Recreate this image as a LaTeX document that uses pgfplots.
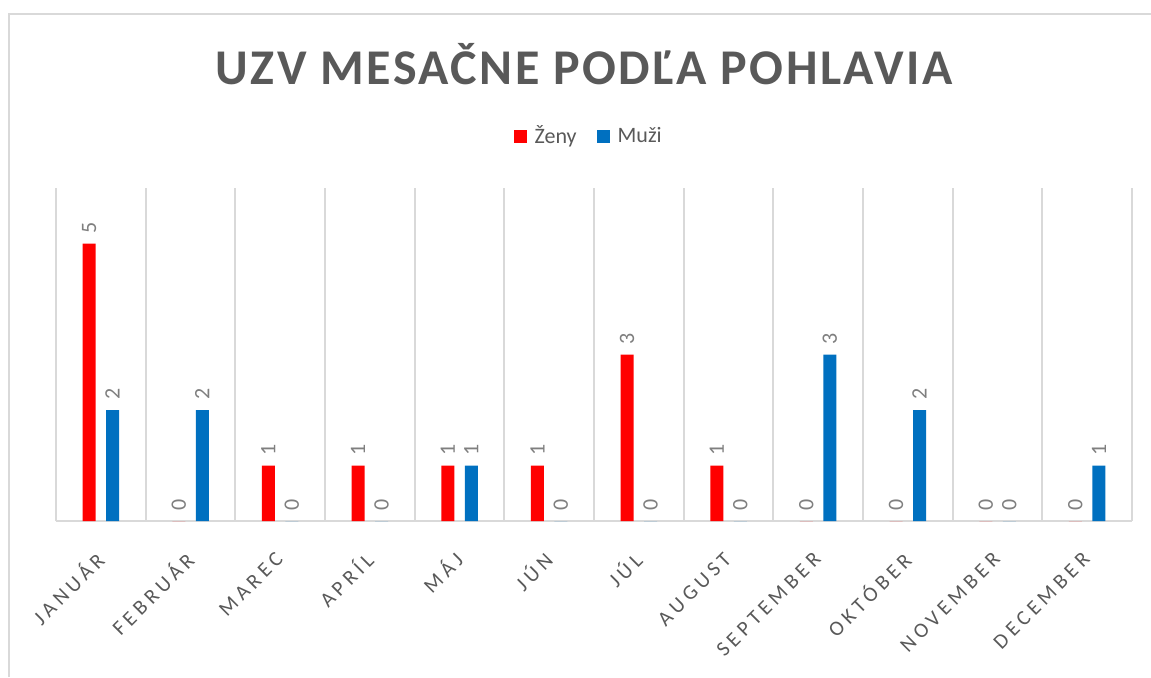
\documentclass[border=0pt]{standalone}
\usepackage{fontspec}
\setmainfont{Carlito}
\newfontfamily\titlefont[LetterSpace=5]{Carlito}
\newfontfamily\tickfont[LetterSpace=21]{Carlito}
\usepackage{pgfplots}
\pgfplotsset{compat=1.18}
\definecolor{zeny}{HTML}{FF0000}
\definecolor{muzi}{HTML}{0070C0}
\definecolor{gridc}{HTML}{D9D9D9}
\definecolor{txt}{HTML}{595959}
\definecolor{lbl}{HTML}{7F7F7F}
\begin{document}
\begin{tikzpicture}
\path[use as bounding box] (0,0) rectangle (575.5pt,338.5pt);
\draw[gridc, line width=1pt] (4.5pt,0) -- (4.5pt,331.5pt) -- (575.5pt,331.5pt);
\node[font=\titlefont\bfseries\fontsize{25}{30}\selectfont, text=txt] at (292pt,306.5pt) {UZV MESAČNE PODĽA POHLAVIA};
\begin{axis}[
  at={(28pt,78pt)}, anchor=south west,
  scale only axis, width=538pt, height=166.5pt,
  ymin=0, ymax=6, xmin=-0.5, xmax=11.5,
  ybar=5.25pt, bar width=6.5pt,
  axis x line*=bottom, axis y line=none,
  x axis line style={gridc, line width=1pt, -},
  xtick={0,...,11},
  xticklabels={JANUÁR,FEBRUÁR,MAREC,APRÍL,MÁJ,JÚN,JÚL,AUGUST,SEPTEMBER,OKTÓBER,NOVEMBER,DECEMBER},
  minor xtick={-0.5,0.5,...,11.5},
  xminorgrids, minor grid style={gridc, line width=1pt},
  major tick length=0pt, minor tick length=0pt,
  xticklabel style={xshift=2pt, yshift=-15pt, rotate=45, anchor=east, font=\tickfont\fontsize{10.5}{12}\selectfont, text=txt},
  /pgf/number format/assume math mode=true,
  nodes near coords,
  every node near coord/.append style={rotate=90, anchor=west, font=\fontsize{11}{13}\selectfont, text=lbl, inner xsep=5pt},
  legend columns=2,
  legend style={at={(0.496,1.156)}, anchor=center, draw=none, font=\fontsize{11}{13}\selectfont, text=txt,
    /tikz/every even column/.append style={column sep=8pt},
    /tikz/every odd column/.append style={column sep=2pt}},
  legend image code/.code={\fill[#1] (0pt,-3.25pt) rectangle (6.5pt,3.25pt);},
]
\addplot[fill=zeny, draw=none] coordinates {(0,5) (1,0) (2,1) (3,1) (4,1) (5,1) (6,3) (7,1) (8,0) (9,0) (10,0) (11,0)};
\addplot[fill=muzi, draw=none] coordinates {(0,2) (1,2) (2,0) (3,0) (4,1) (5,0) (6,0) (7,0) (8,3) (9,2) (10,0) (11,1)};
\legend{Ženy,Muži}
\end{axis}
\end{tikzpicture}
\end{document}
